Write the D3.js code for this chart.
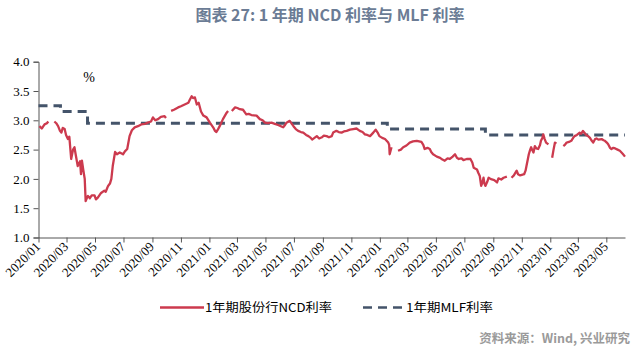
<!DOCTYPE html>
<html><head><meta charset="utf-8">
<script src="https://cdn.jsdelivr.net/npm/d3@7"></script>
<style>
html,body{margin:0;padding:0;background:#fff;}
svg{display:block;}
</style></head>
<body>
<svg id="chart" width="637" height="353"></svg>
<script>
const titleText = "图表 27: 1 年期 NCD 利率与 MLF 利率";
const sourceText = "资料来源：Wind, 兴业研究";
const legendLabels = ["1年期股份行NCD利率", "1年期MLF利率"];
const yTicks = [1.0, 1.5, 2.0, 2.5, 3.0, 3.5, 4.0];

const ncdDates = ["2020-01-03","2020-01-08","2020-01-14","2020-01-19","2020-01-22","2020-01-28","2020-02-04","2020-02-08","2020-02-12","2020-02-16","2020-02-19","2020-02-22","2020-02-26","2020-02-29","2020-03-04","2020-03-07","2020-03-11","2020-03-15","2020-03-18","2020-03-21","2020-03-25","2020-03-30","2020-04-01","2020-04-03","2020-04-06","2020-04-09","2020-04-11","2020-04-14","2020-04-16","2020-04-20","2020-04-24","2020-04-30","2020-05-03","2020-05-07","2020-05-14","2020-05-21","2020-05-24","2020-05-29","2020-06-02","2020-06-05","2020-06-08","2020-06-13","2020-06-17","2020-06-23","2020-06-30","2020-07-04","2020-07-09","2020-07-14","2020-07-19","2020-07-25","2020-08-01","2020-08-08","2020-08-16","2020-08-22","2020-08-29","2020-09-02","2020-09-07","2020-09-13","2020-09-19","2020-09-27","2020-09-30","2020-10-04","2020-10-11","2020-10-17","2020-10-26","2020-11-01","2020-11-09","2020-11-17","2020-11-20","2020-11-24","2020-11-27","2020-12-01","2020-12-05","2020-12-09","2020-12-14","2020-12-19","2020-12-26","2021-01-02","2021-01-09","2021-01-13","2021-01-16","2021-01-19","2021-01-23","2021-01-30","2021-02-07","2021-02-10","2021-02-14","2021-02-18","2021-02-25","2021-03-02","2021-03-07","2021-03-14","2021-03-21","2021-03-26","2021-04-01","2021-04-12","2021-04-19","2021-04-25","2021-04-30","2021-05-06","2021-05-14","2021-05-21","2021-05-28","2021-06-03","2021-06-08","2021-06-12","2021-06-15","2021-06-22","2021-06-30","2021-07-05","2021-07-10","2021-07-16","2021-07-21","2021-07-27","2021-08-01","2021-08-06","2021-08-09","2021-08-14","2021-08-19","2021-08-24","2021-08-30","2021-09-03","2021-09-09","2021-09-14","2021-09-20","2021-09-23","2021-09-30","2021-10-05","2021-10-11","2021-10-16","2021-10-22","2021-10-29","2021-11-05","2021-11-12","2021-11-19","2021-11-25","2021-11-30","2021-12-05","2021-12-11","2021-12-18","2021-12-23","2021-12-28","2021-12-31","2022-01-06","2022-01-12","2022-01-19","2022-01-21","2022-01-22","2022-01-26","2022-02-01","2022-02-09","2022-02-15","2022-02-20","2022-02-27","2022-03-06","2022-03-13","2022-03-21","2022-03-26","2022-03-31","2022-04-04","2022-04-07","2022-04-13","2022-04-18","2022-04-21","2022-04-25","2022-05-03","2022-05-10","2022-05-15","2022-05-20","2022-05-26","2022-05-31","2022-06-06","2022-06-11","2022-06-15","2022-06-19","2022-06-25","2022-06-29","2022-07-06","2022-07-14","2022-07-18","2022-07-21","2022-07-28","2022-07-31","2022-08-03","2022-08-06","2022-08-09","2022-08-11","2022-08-13","2022-08-15","2022-08-19","2022-08-22","2022-08-26","2022-08-29","2022-09-03","2022-09-09","2022-09-12","2022-09-18","2022-09-23","2022-09-30","2022-10-04","2022-10-10","2022-10-15","2022-10-21","2022-10-24","2022-10-28","2022-11-01","2022-11-06","2022-11-09","2022-11-11","2022-11-14","2022-11-16","2022-11-19","2022-11-21","2022-11-23","2022-11-26","2022-11-29","2022-12-02","2022-12-06","2022-12-10","2022-12-12","2022-12-15","2022-12-17","2022-12-20","2022-12-23","2022-12-28","2023-01-01","2023-01-05","2023-01-08","2023-01-11","2023-01-14","2023-01-21","2023-01-29","2023-02-01","2023-02-05","2023-02-10","2023-02-15","2023-02-19","2023-02-22","2023-02-27","2023-03-05","2023-03-08","2023-03-12","2023-03-16","2023-03-19","2023-03-23","2023-03-27","2023-03-30","2023-04-03","2023-04-07","2023-04-10","2023-04-14","2023-04-21","2023-04-25","2023-04-28","2023-05-02","2023-05-05","2023-05-09","2023-05-12","2023-05-16","2023-05-20","2023-05-25","2023-05-30","2023-06-05","2023-06-10"];
const ncdValues = [2.90,2.86,2.93,2.95,2.98,null,2.98,2.95,2.90,2.82,2.79,2.87,2.85,2.75,2.68,2.72,2.34,2.50,2.54,2.40,2.22,2.30,2.08,2.31,2.15,2.00,1.62,1.68,1.71,1.67,1.72,1.72,1.65,1.68,1.76,1.80,1.78,1.88,1.92,2.00,2.22,2.46,2.42,2.45,2.42,2.47,2.51,2.73,2.83,2.88,2.90,2.93,2.94,2.96,2.98,3.05,3.00,3.02,3.06,3.07,3.04,null,3.16,3.18,3.22,3.24,3.27,3.30,3.35,3.41,3.38,3.39,3.27,3.30,3.15,3.08,3.05,2.96,2.88,2.82,2.80,2.84,2.90,3.02,3.13,3.16,null,3.16,3.22,3.21,3.19,3.18,3.10,3.11,3.09,3.08,3.02,3.00,2.96,2.95,2.96,2.94,2.92,2.90,2.88,2.92,2.96,2.99,2.90,2.85,2.82,2.80,2.79,2.75,2.73,2.70,2.67,2.70,2.73,2.69,2.71,2.74,2.73,2.71,2.73,2.79,2.82,2.80,2.79,2.81,2.82,2.84,2.85,2.86,2.82,2.80,2.76,2.75,2.73,2.79,2.84,2.78,2.73,2.70,2.68,2.62,2.58,2.42,2.54,null,2.48,2.50,2.54,2.57,2.62,2.64,2.65,2.64,2.63,2.58,2.51,2.53,2.51,2.46,2.42,2.38,2.36,2.33,2.31,2.35,2.34,2.38,2.42,2.36,2.34,2.35,2.32,2.34,2.34,2.28,2.19,2.16,2.10,2.05,1.88,1.95,2.02,1.92,1.88,1.95,2.02,2.00,1.99,1.98,1.94,2.01,1.99,2.02,2.04,null,2.02,2.06,2.14,2.08,2.06,2.07,2.08,2.14,2.22,2.34,2.42,2.50,2.54,2.50,2.45,2.56,2.52,2.51,2.58,2.65,2.70,2.76,2.68,2.62,2.59,null,2.36,2.50,2.62,2.60,null,2.56,2.58,2.62,2.63,2.65,2.70,2.73,2.75,2.79,2.77,2.82,2.78,2.75,2.73,2.70,2.66,2.62,2.68,2.69,2.67,2.68,2.66,2.65,2.62,2.59,2.53,2.51,2.53,2.52,2.50,2.48,2.43,2.38];

const mlfDates = ["2020-01-01","2020-02-17","2020-04-15","2022-01-17","2022-08-15","2023-06-10"];
const mlfValues = [3.25, 3.15, 2.95, 2.85, 2.75, 2.75];

const parse = d3.utcParse("%Y-%m-%d");
const ncd = ncdDates.map((d,i)=>({d:parse(d), v:ncdValues[i]}));
const mlf = mlfDates.map((d,i)=>({d:parse(d), v:mlfValues[i]}));

const svg = d3.select("#chart");
const x = d3.scaleUtc().domain([parse("2020-01-01"), parse("2023-06-10")]).range([38.5, 625]);
const y = d3.scaleLinear().domain([1,4]).range([237.5, 61.7]);

// title
svg.append("text").attr("x", 330).attr("y", 21).attr("text-anchor","middle")
  .attr("font-family","'Noto Sans CJK SC','Noto Sans',sans-serif").attr("font-weight","bold")
  .attr("font-size",16).attr("fill","#6b7c95").text(titleText);

// y axis
const yAxis = svg.append("g").attr("transform","translate(38.5,0)")
  .call(d3.axisLeft(y).tickValues(yTicks).tickFormat(d3.format(".1f")).tickSize(5).tickPadding(4));
yAxis.selectAll("text").attr("font-family","'Liberation Serif',serif").attr("font-size",13).attr("fill","#000");
yAxis.selectAll("path,line").attr("stroke","#555");

// x axis
const xTicks = d3.utcMonth.every(2).range(parse("2020-01-01"), parse("2023-06-02"));
const xAxis = svg.append("g").attr("transform","translate(0,237.5)")
  .call(d3.axisBottom(x).tickValues(xTicks).tickFormat(d3.utcFormat("%Y/%m")).tickSize(5).tickSizeOuter(0));
xAxis.selectAll("path,line").attr("stroke","#555");
xAxis.selectAll("text").attr("font-family","'Liberation Serif',serif").attr("font-size",13).attr("fill","#000")
  .attr("text-anchor","end").attr("dy",null).attr("y",0)
  .attr("transform","translate(2,10) rotate(-45)");

// % label
svg.append("text").attr("x",89).attr("y",82).attr("text-anchor","middle")
  .attr("font-family","'Liberation Serif',serif").attr("font-size",14).text("%");

// lines
const line = d3.line().defined(d=>d.v!=null).x(d=>x(d.d)).y(d=>y(d.v));
svg.append("path").datum(mlf).attr("fill","none").attr("stroke","#44546a").attr("stroke-width",3)
  .attr("stroke-dasharray","9,6")
  .attr("d", d3.line().curve(d3.curveStepAfter).x(d=>x(d.d)).y(d=>y(d.v)));
svg.append("path").datum(ncd).attr("fill","none").attr("stroke","#cc3a4e").attr("stroke-width",2.3)
  .attr("stroke-linejoin","round").attr("d", line);

// legend
const lg = svg.append("g").attr("font-family","'Noto Sans CJK SC',sans-serif").attr("font-size",12).attr("fill","#000");
lg.append("line").attr("x1",160).attr("x2",204).attr("y1",307.5).attr("y2",307.5).attr("stroke","#cc3a4e").attr("stroke-width",2.3);
lg.append("text").attr("x",205).attr("y",312).attr("textLength",127).attr("lengthAdjust","spacingAndGlyphs").text(legendLabels[0]);
lg.append("line").attr("x1",363).attr("x2",405).attr("y1",307.5).attr("y2",307.5).attr("stroke","#44546a").attr("stroke-width",2.5).attr("stroke-dasharray","9,6");
lg.append("text").attr("x",406).attr("y",312).attr("textLength",87).attr("lengthAdjust","spacingAndGlyphs").text(legendLabels[1]);

// source
svg.append("text").attr("x",630).attr("y",343).attr("text-anchor","end")
  .attr("font-family","'Noto Sans CJK SC',sans-serif").attr("font-weight","bold").attr("font-size",12.5)
  .attr("fill","#9a9a9a").text(sourceText);
</script>
</body></html>
